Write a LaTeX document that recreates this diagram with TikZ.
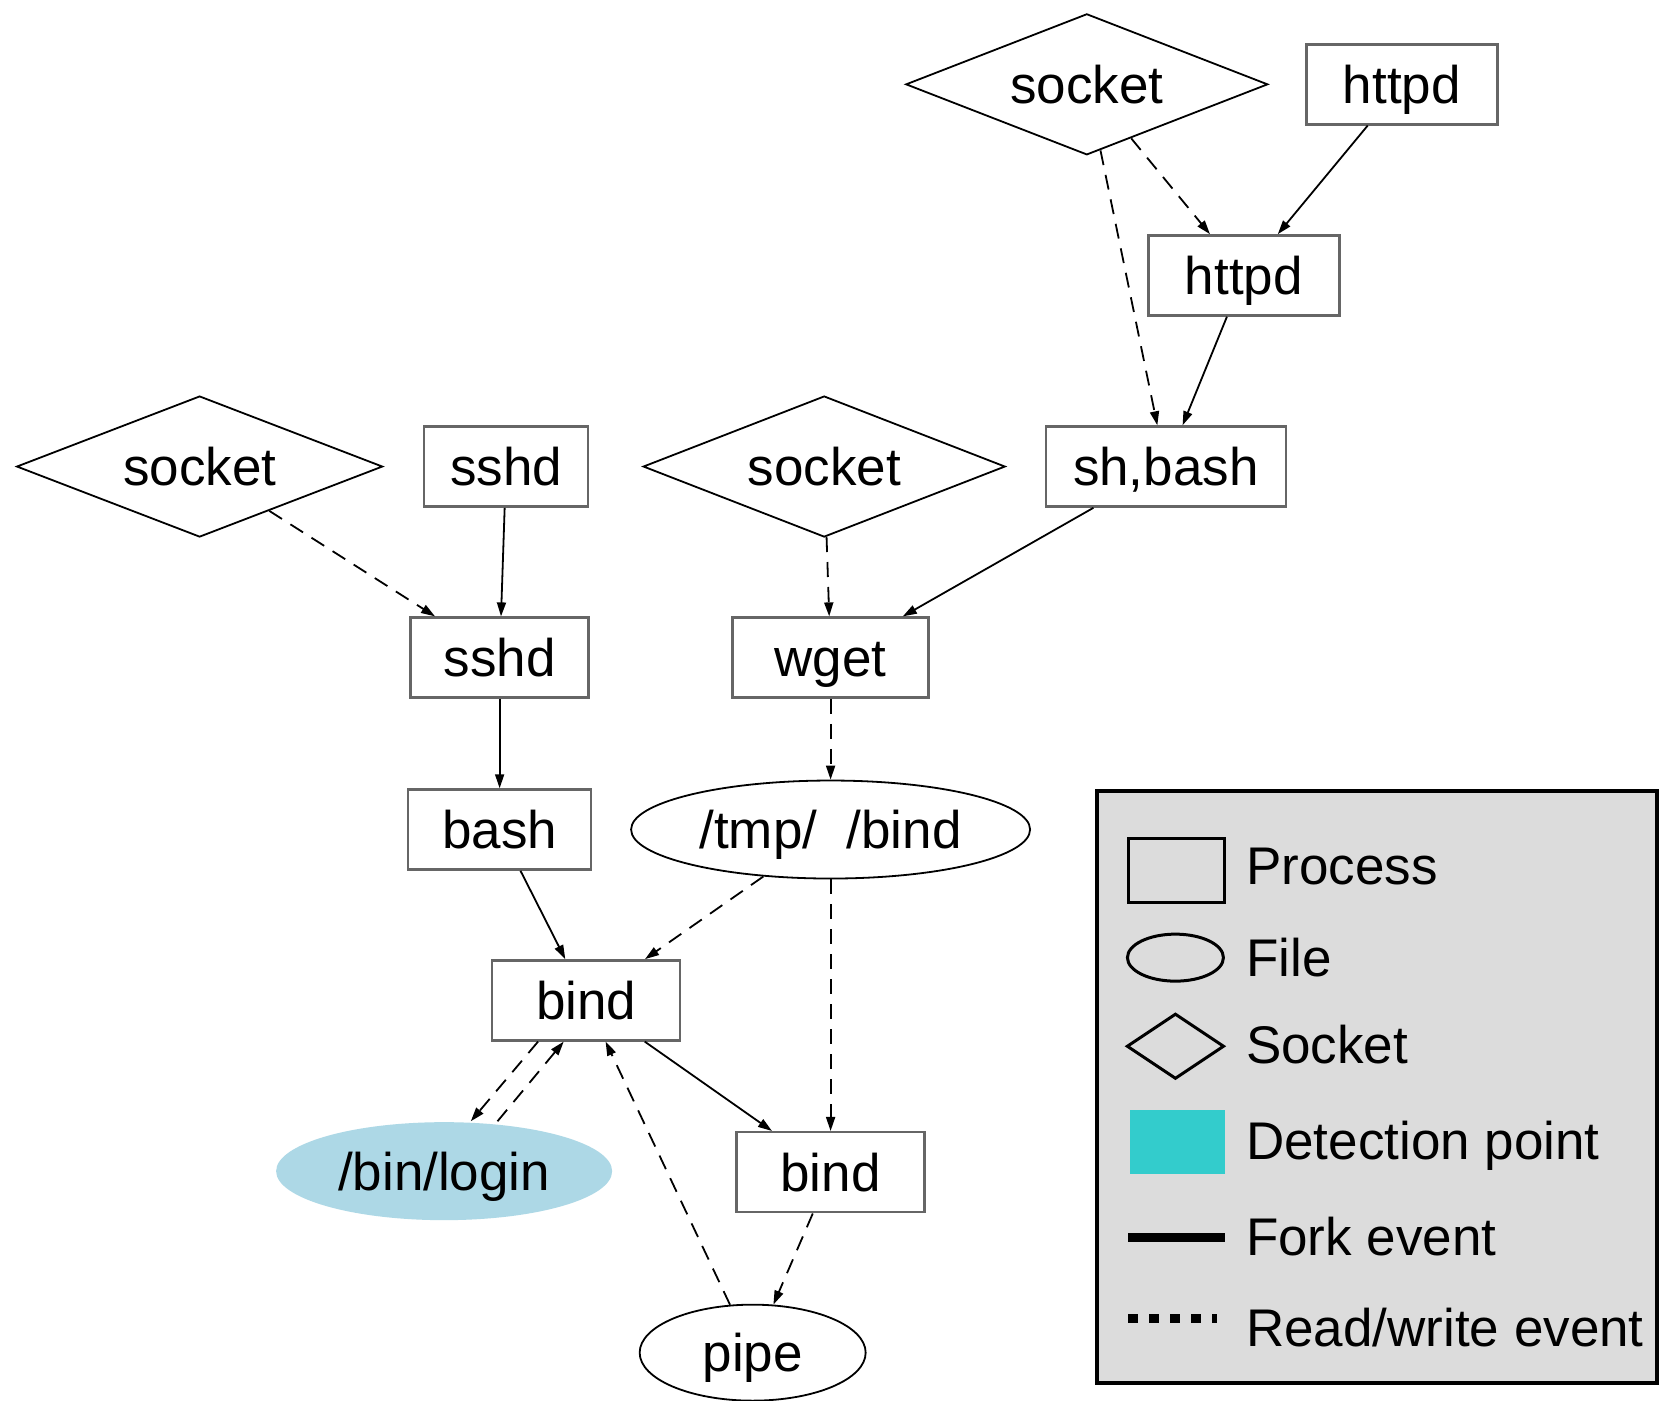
\documentclass[tikz,border=0pt]{standalone}
\usepackage{fontspec}
\setmainfont{Liberation Sans}
\usetikzlibrary{shapes.geometric,arrows.meta,calc}
\newcommand{\bigtxt}{\fontsize{53pt}{63pt}\selectfont}
\definecolor{detect}{HTML}{33CCCC}
\definecolor{loginblue}{HTML}{ADD8E6}
\definecolor{legendgray}{HTML}{DCDCDC}
\begin{document}
\begin{tikzpicture}[x=1.0676pt,y=-1.0676pt,
  txt/.style={font=\bigtxt, text height=38pt, text depth=0pt},
  proc/.style={txt, draw=black!60, line width=2.5pt, rectangle, minimum height=80pt, inner sep=0pt},
  sock/.style={txt, draw, diamond, line width=1.8pt, minimum width=362pt, minimum height=141pt, aspect=2.5, inner sep=0pt},
  fil/.style={txt, draw, ellipse, line width=1.8pt, minimum height=98pt, inner sep=0pt},
  forkedge/.style={-{Triangle[length=14pt,width=9pt]}, line width=1.8pt},
  rwedge/.style={forkedge, dash pattern=on 15pt off 10pt},
  legtxt/.style={txt, anchor=west, inner sep=0pt}]
\useasboundingbox (0,0) rectangle (1568,1312);
\fill[white] (0,0) rectangle (1568,1312);

% nodes
\node[sock] (sock1) at (1018,79) {socket};
\node[proc, minimum width=191pt] (httpd1) at (1313,79) {httpd};
\node[proc, minimum width=191pt] (httpd2) at (1165,258) {httpd};
\node[proc, minimum width=240pt] (shbash) at (1092,437) {sh,bash};
\node[sock, minimum width=366pt] (sock2) at (187,437) {socket};
\node[proc, minimum width=164pt] (sshd1) at (474,437) {sshd};
\node[sock] (sock3) at (772,437) {socket};
\node[proc, minimum width=178pt] (sshd2) at (468,616) {sshd};
\node[proc, minimum width=196pt] (wget) at (778,616) {wget};
\node[proc, minimum width=183pt] (bash) at (468,777) {bash};
\node[fil, minimum width=399pt] (tmpbind) at (778,777) {/tmp/\ \ /bind};
\node[proc, minimum width=188pt] (bind1) at (549,937) {bind};
\node[fil, draw=none, fill=loginblue, minimum width=336pt] (login) at (416,1097) {/bin/login};
\node[proc, minimum width=188pt] (bind2) at (778,1098) {bind};
\node[fil, minimum width=226pt, minimum height=96pt] (pipe) at (705,1267) {pipe};

% edges
\draw[rwedge] (sock1) -- (httpd2);
\draw[rwedge] (sock1) -- (shbash);
\draw[forkedge] (httpd1) -- (httpd2);
\draw[forkedge] (httpd2) -- (shbash);
\draw[forkedge] (shbash) -- (wget);
\draw[rwedge] (sock2) -- (sshd2);
\draw[forkedge] (sshd1) -- (sshd2);
\draw[rwedge] (sock3) -- (wget);
\draw[forkedge] (sshd2) -- (bash);
\draw[rwedge] (wget) -- (tmpbind);
\draw[forkedge] (bash) -- (bind1);
\draw[rwedge] (tmpbind) -- (bind1);
\draw[rwedge] (tmpbind) -- (bind2);
\draw[forkedge] (bind1) -- (bind2);
\draw[rwedge] ($(bind1.south)+(-45,0)$) -- ($(login.north)+(25,0)$);
\draw[rwedge] ($(login.north)+(50,0)$) -- ($(bind1.south)+(-21,0)$);
\draw[rwedge] (pipe) -- (bind1);
\draw[rwedge] (bind2) -- (pipe);

% legend
\node[draw, line width=4pt, fill=legendgray, rectangle, inner sep=0pt,
  minimum width=560pt, minimum height=592pt] (legend) at (1289.5,1018.5) {};
\draw[line width=3pt] (1057,785) rectangle (1147,845);
\draw[line width=3pt] (1101,897) ellipse [x radius=48pt, y radius=23.5pt];
\draw[line width=3pt] (1056,980) -- (1101,950) -- (1146,980) -- (1101,1010) -- cycle;
\fill[detect] (1058,1040) rectangle (1147,1100);
\draw[line width=9pt] (1057,1159) -- (1147,1159);
\draw[line width=9pt, dash pattern=on 10pt off 11pt] (1057,1235) -- (1140,1235);
\node[legtxt] (lp) at (1167,811) {Process};
\node[legtxt] (lf) at (1167,897) {File};
\node[legtxt] (ls) at (1167,978) {Socket};
\node[legtxt] (ld) at (1167,1068) {Detection point};
\node[legtxt] (lk) at (1167,1158) {Fork event};
\node[legtxt] (lr) at (1167,1243) {Read/write event};
\end{tikzpicture}
\end{document}
